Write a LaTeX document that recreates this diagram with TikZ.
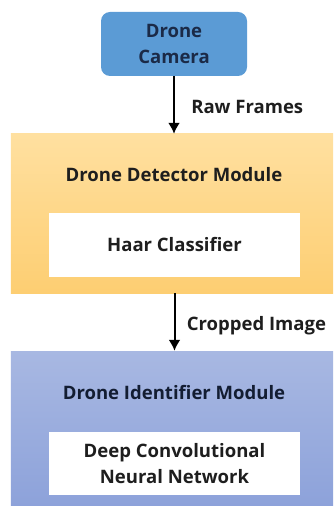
\documentclass[tikz,border=0pt]{standalone}
\usepackage{fontspec}
\setmainfont{Open Sans}[BoldFont={* Bold}]
\usetikzlibrary{positioning, arrows.meta}
\definecolor{camblue}{HTML}{5B9BD5}
\definecolor{detecttop}{HTML}{FFE0A0}
\definecolor{detectbot}{HTML}{FDCE72}
\definecolor{identtop}{HTML}{A8B8E2}
\definecolor{identbot}{HTML}{8DA2DA}
\definecolor{txtdark}{HTML}{1E1E1E}
\definecolor{txtnavy}{HTML}{1B2A47}
\begin{document}
\begin{tikzpicture}[x=1bp, y=-1bp]
    \tikzstyle{every node} = [align=center, font=\bfseries\fontsize{18.6}{26}\selectfont, text=txtdark]
    \tikzstyle{module} = [rectangle, inner sep=0pt, minimum width=322bp]
    \tikzstyle{inner box} = [rectangle, fill=white, inner sep=0pt, minimum width=251bp, minimum height=64bp]
    \tikzstyle{flow} = [draw=black, line width=2bp, -{Latex[length=11bp, width=12bp]}]
    \useasboundingbox (0,0) rectangle (333,506);

    \node[rectangle, rounded corners=9bp, fill=camblue, minimum width=146bp, minimum height=64bp, text=txtnavy](camera) at (174,44){Drone\\Camera};

    \node[module, minimum height=159bp, top color=detecttop, bottom color=detectbot](detector) at (172,213.5){};
    \node[draw=none](detecttitle) at (174,175){Drone Detector Module};
    \node[inner box](haar) at (174.5,245){Haar Classifier};

    \node[module, minimum height=155bp, top color=identtop, bottom color=identbot](identifier) at (172,428.5){};
    \node[draw=none, text=txtnavy!70!black](identtitle) at (174,392){Drone Identifier Module};
    \node[inner box, minimum height=63bp](dcnn) at (174.5,463.5){Deep Convolutional\\Neural Network};

    \path (camera.south) edge[flow] node[right, xshift=13bp, yshift=-2bp](){Raw Frames} (camera |- detector.north);
    \path (detector.south -| haar) edge[flow] node[right, xshift=8bp, yshift=-4bp](){Cropped Image} (identifier.north -| haar);
\end{tikzpicture}
\end{document}
